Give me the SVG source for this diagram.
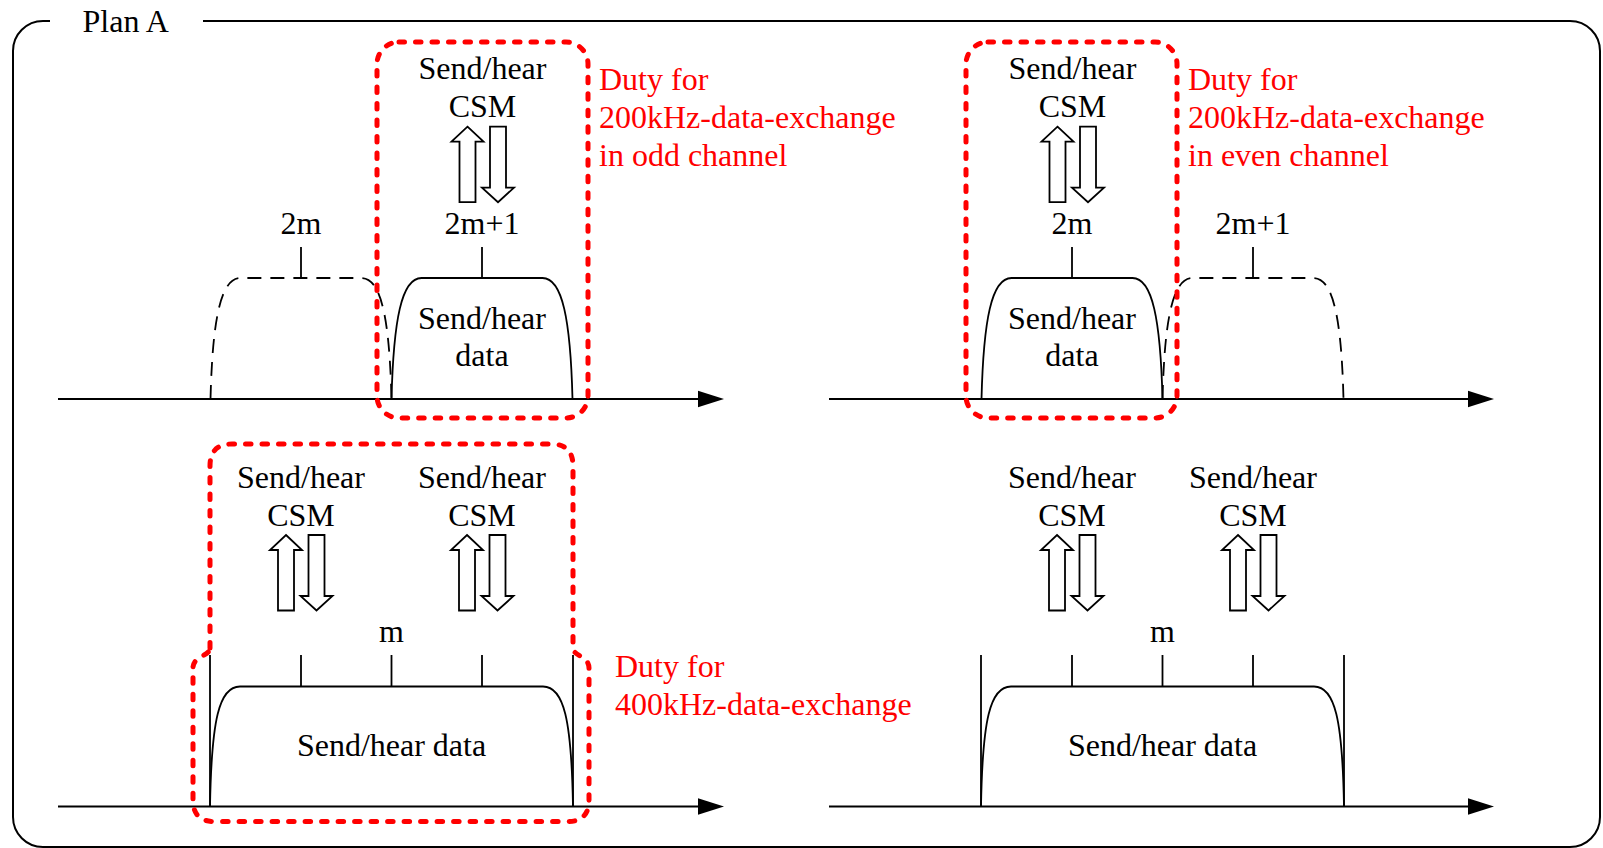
<svg xmlns="http://www.w3.org/2000/svg" xmlns:xlink="http://www.w3.org/1999/xlink" width="1603" height="848" viewBox="0 0 1603 848">
<style>
.frame{fill:none;stroke:#000;stroke-width:2}
.ax{fill:none;stroke:#000;stroke-width:2}
.head{fill:#000;stroke:none}
.bump{fill:none;stroke:#000;stroke-width:1.8}
.dbump{fill:none;stroke:#000;stroke-width:1.8;stroke-dasharray:14 9}
.red{fill:none;stroke:#ff0000;stroke-width:5;stroke-dasharray:5.5 11;stroke-linecap:round}
.harrow{fill:#fff;stroke:#000;stroke-width:1.8;stroke-linejoin:miter}
.t{font-family:"Liberation Serif","Times New Roman",serif;font-size:32px;fill:#000;text-anchor:middle}
.rt{font-family:"Liberation Serif","Times New Roman",serif;font-size:32px;fill:#ff0000}
.lbl{font-family:"Liberation Serif","Times New Roman",serif;font-size:32px;fill:#000}
</style>
<defs>
<g id="csmArrows">
<path class="harrow" d="M-15,0 L1,15 L-7,15 L-7,75.5 L-23,75.5 L-23,15 L-31,15 Z"/>
<path class="harrow" d="M7.5,0 L23.5,0 L23.5,61 L31.5,61 L15.5,75.5 L-0.5,61 L7.5,61 Z"/>
</g>
<polygon id="axHead" class="head" points="0,-8.3 26,0 0,8.3"/>
</defs>

<g id="frame">
<path class="frame" d="M203,21 H1570 A30,30 0 0 1 1600,51 V817 A30,30 0 0 1 1570,847 H43 A30,30 0 0 1 13,817 V51 A30,30 0 0 1 43,21 H50"/>
<text class="lbl" x="82.5" y="31.5">Plan A</text>
</g>

<g id="connectors">
<path class="ax" d="M58,399 H700"/>
<use xlink:href="#axHead" x="698" y="399"/>
<path class="ax" d="M829,399 H1470"/>
<use xlink:href="#axHead" x="1468" y="399"/>
<path class="ax" d="M58,806.5 H700"/>
<use xlink:href="#axHead" x="698" y="806.5"/>
<path class="ax" d="M829,806.5 H1470"/>
<use xlink:href="#axHead" x="1468" y="806.5"/>
<use xlink:href="#csmArrows" x="482.5" y="126.7"/>
<use xlink:href="#csmArrows" x="1072.5" y="126.7"/>
<use xlink:href="#csmArrows" x="301" y="535"/>
<use xlink:href="#csmArrows" x="482" y="535"/>
<use xlink:href="#csmArrows" x="1072" y="535"/>
<use xlink:href="#csmArrows" x="1253" y="535"/>
</g>

<!-- Top-left panel -->
<g id="tl-ch2m">
<path class="dbump" d="M210.5,399 C212.5,320 220.5,278 240.5,278 H361.5 C381.5,278 389.5,320 391.5,399"/>
<path class="bump" d="M301,247 V278"/>
<text class="t" x="301" y="234">2m</text>
</g>
<g id="tl-ch2m1">
<path class="bump" d="M391.5,399 C393.5,320 401.5,278 421.5,278 H542.5 C562.5,278 570.5,320 572.5,399"/>
<path class="bump" d="M482,247 V278"/>
<text class="t" x="482" y="234">2m+1</text>
<text class="t" x="482" y="329">Send/hear</text>
<text class="t" x="482" y="366">data</text>
</g>
<g id="tl-csm">
<text class="t" x="482.5" y="78.5">Send/hear</text>
<text class="t" x="482.5" y="117">CSM</text>
</g>
<g id="tl-duty">
<rect class="red" x="377" y="42" width="211" height="376" rx="22" ry="22"/>
<text class="rt" x="599" y="90">Duty for</text>
<text class="rt" x="599" y="128">200kHz-data-exchange</text>
<text class="rt" x="599" y="166">in odd channel</text>
</g>

<!-- Top-right panel -->
<g id="tr-ch2m">
<path class="bump" d="M981.5,399 C983.5,320 991.5,278 1011.5,278 H1132.5 C1152.5,278 1160.5,320 1162.5,399"/>
<path class="bump" d="M1072,247 V278"/>
<text class="t" x="1072" y="234">2m</text>
<text class="t" x="1072" y="329">Send/hear</text>
<text class="t" x="1072" y="366">data</text>
</g>
<g id="tr-ch2m1">
<path class="dbump" d="M1162.5,399 C1164.5,320 1172.5,278 1192.5,278 H1313.5 C1333.5,278 1341.5,320 1343.5,399"/>
<path class="bump" d="M1253,247 V278"/>
<text class="t" x="1253" y="234">2m+1</text>
</g>
<g id="tr-csm">
<text class="t" x="1072.5" y="78.5">Send/hear</text>
<text class="t" x="1072.5" y="117">CSM</text>
</g>
<g id="tr-duty">
<rect class="red" x="966" y="42" width="211" height="376" rx="22" ry="22"/>
<text class="rt" x="1188" y="90">Duty for</text>
<text class="rt" x="1188" y="128">200kHz-data-exchange</text>
<text class="rt" x="1188" y="166">in even channel</text>
</g>

<!-- Bottom-left panel -->
<g id="bl-data">
<path class="bump" d="M210,655 V806.5 M573,655 V806.5 M301,655 V686.5 M391.5,655 V686.5 M482,655 V686.5"/>
<path class="bump" d="M210,806.5 C211.5,720 219,686.5 240,686.5 H543 C564,686.5 571.5,720 573,806.5"/>
<text class="t" x="391.5" y="642">m</text>
<text class="t" x="391.5" y="755.5">Send/hear data</text>
</g>
<g id="bl-csm1">
<text class="t" x="301" y="488">Send/hear</text>
<text class="t" x="301" y="526">CSM</text>
</g>
<g id="bl-csm2">
<text class="t" x="482" y="488">Send/hear</text>
<text class="t" x="482" y="526">CSM</text>
</g>
<g id="bl-duty">
<path class="red" d="M210,648 V466 Q210,444 232,444 H551 Q573,444 573,466 V648 C573,656 589,656 589,668 V800 Q589,821.5 568,821.5 H214 Q193,821.5 193,800 V668 C193,656 210,656 210,648 Z"/>
<text class="rt" x="615" y="677">Duty for</text>
<text class="rt" x="615" y="715">400kHz-data-exchange</text>
</g>

<!-- Bottom-right panel -->
<g id="br-data">
<path class="bump" d="M981,655 V806.5 M1344,655 V806.5 M1072,655 V686.5 M1162.5,655 V686.5 M1253,655 V686.5"/>
<path class="bump" d="M981,806.5 C982.5,720 990,686.5 1011,686.5 H1314 C1335,686.5 1342.5,720 1344,806.5"/>
<text class="t" x="1162.5" y="642">m</text>
<text class="t" x="1162.5" y="755.5">Send/hear data</text>
</g>
<g id="br-csm1">
<text class="t" x="1072" y="488">Send/hear</text>
<text class="t" x="1072" y="526">CSM</text>
</g>
<g id="br-csm2">
<text class="t" x="1253" y="488">Send/hear</text>
<text class="t" x="1253" y="526">CSM</text>
</g>
</svg>
